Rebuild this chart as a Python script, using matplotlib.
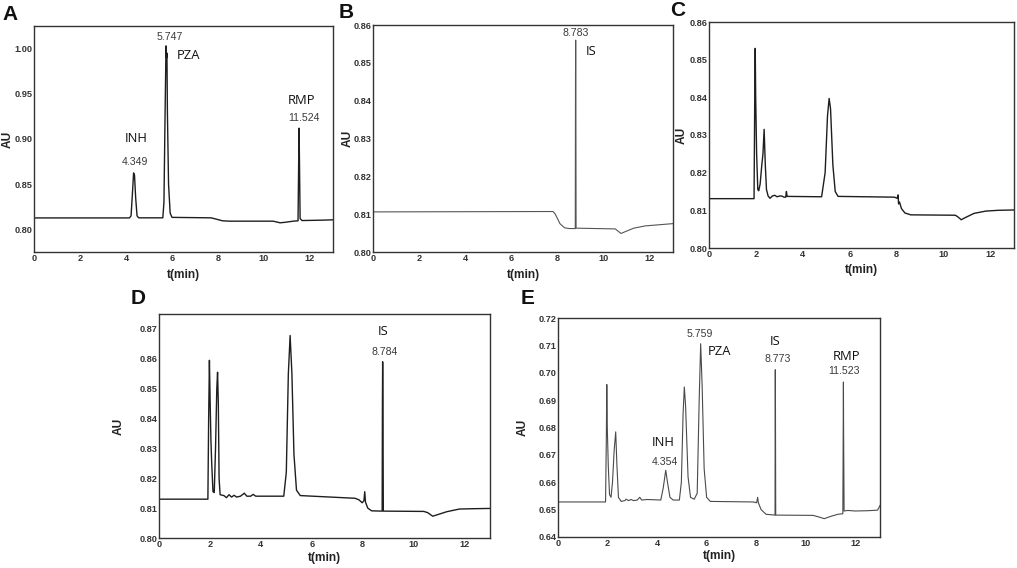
import matplotlib
matplotlib.use("Agg")
import matplotlib.pyplot as plt

# ---------------- data ----------------
# Panel A
a_t = [0.0, 4.15, 4.22, 4.28, 4.33, 4.37, 4.42, 4.48, 4.55, 5.60, 5.65, 5.70, 5.74, 5.765, 5.78,
       5.80, 5.85, 5.92, 6.0, 7.7, 7.9, 8.2, 8.5, 10.4, 10.7, 10.9, 11.3, 11.48, 11.51, 11.525,
       11.54, 11.57, 11.65, 12.5, 13.0]
a_y = [0.8127, 0.8127, 0.815, 0.840, 0.8625, 0.860, 0.835, 0.815, 0.8128, 0.8128, 0.830, 0.930,
       1.003, 0.990, 0.995, 0.930, 0.850, 0.818, 0.8133, 0.8128, 0.8115, 0.8095, 0.8091, 0.8091,
       0.8073, 0.8078, 0.8092, 0.8095, 0.880, 0.912, 0.880, 0.812, 0.8098, 0.8102, 0.8106]

# Panel B
b_t = [0.0, 7.8, 7.9, 8.1, 8.3, 8.5, 8.765, 8.775, 8.783, 8.79, 8.80, 10.5, 10.6, 10.75, 10.9,
       11.3, 11.8, 12.2, 13.0]
b_y = [0.8106, 0.8107, 0.8100, 0.8075, 0.8064, 0.8062, 0.8062, 0.845, 0.856, 0.845, 0.8063,
       0.8061, 0.8056, 0.8049, 0.8053, 0.8063, 0.8069, 0.8071, 0.8075]

# Panel C
c_t = [0.0, 1.92, 1.95, 1.97, 1.99, 2.03, 2.08, 2.12, 2.18, 2.25, 2.30, 2.35, 2.40, 2.45, 2.52,
       2.6, 2.7, 2.8, 2.9, 3.0, 3.1, 3.2, 3.27, 3.30, 3.33, 4.8, 4.95, 5.05, 5.12, 5.18, 5.28,
       5.38, 5.5, 7.9, 8.02, 8.06, 8.08, 8.12, 8.2, 8.35, 8.6, 10.5, 10.6, 10.75, 10.9, 11.3,
       11.8, 12.3, 13.0]
c_y = [0.8131, 0.8131, 0.840, 0.853, 0.840, 0.825, 0.8155, 0.8152, 0.817, 0.8220, 0.8250, 0.8315,
       0.822, 0.8155, 0.8138, 0.8132, 0.8138, 0.8140, 0.8136, 0.8138, 0.8138, 0.8135, 0.8135,
       0.8150, 0.8137, 0.8136, 0.8200, 0.8350, 0.8397, 0.8370, 0.8220, 0.8150, 0.8137, 0.8135,
       0.8132, 0.8141, 0.8117, 0.8122, 0.8105, 0.8093, 0.8088, 0.8087, 0.8083, 0.8075, 0.8080,
       0.8092, 0.8098, 0.8100, 0.8101]

# Panel D
d_t = [0.0, 1.92, 1.95, 1.98, 2.01, 2.04, 2.07, 2.12, 2.17, 2.22, 2.27, 2.30, 2.33, 2.36, 2.40,
       2.55, 2.65, 2.75, 2.85, 2.95, 3.05, 3.2, 3.35, 3.45, 3.6, 3.7, 3.8, 4.9, 5.0, 5.08, 5.15,
       5.22, 5.30, 5.40, 5.55, 7.7, 7.85, 7.98, 8.05, 8.08, 8.11, 8.2, 8.35, 8.765, 8.775, 8.784,
       8.795, 8.81, 10.4, 10.55, 10.75, 10.9, 11.3, 11.8, 12.3, 13.0]
d_y = [0.8130, 0.8130, 0.840, 0.8595, 0.845, 0.8325, 0.8250, 0.8155, 0.8152, 0.830, 0.8500,
       0.8555, 0.8450, 0.8200, 0.8145, 0.8142, 0.8135, 0.8145, 0.8137, 0.8143, 0.8137, 0.8140,
       0.8150, 0.8140, 0.8140, 0.8146, 0.8140, 0.8140, 0.8220, 0.8550, 0.8678, 0.8550, 0.8280,
       0.8160, 0.8142, 0.8133, 0.8128, 0.8118, 0.8125, 0.8155, 0.8120, 0.8100, 0.8091, 0.8090,
       0.845, 0.8590, 0.845, 0.8090, 0.8089, 0.8085, 0.8073, 0.8077, 0.8088, 0.8097, 0.8098,
       0.8099]

# Panel E
e_t = [0.0, 1.92, 1.95, 1.97, 1.99, 2.03, 2.08, 2.14, 2.20, 2.27, 2.33, 2.38, 2.44, 2.55, 2.7,
       2.75, 2.85, 2.95, 3.05, 3.2, 3.3, 3.38, 3.6, 4.15, 4.25, 4.35, 4.42, 4.52, 4.65, 4.9, 4.98,
       5.05, 5.10, 5.15, 5.25, 5.35, 5.5, 5.62, 5.70, 5.76, 5.82, 5.90, 6.0, 6.15, 7.9, 8.02,
       8.06, 8.09, 8.2, 8.4, 8.762, 8.768, 8.773, 8.78, 8.79, 10.3, 10.5, 10.75, 11.0, 11.3,
       11.50, 11.515, 11.523, 11.53, 11.55, 11.7, 12.0, 12.5, 12.9, 13.0]
e_y = [0.6528, 0.6528, 0.675, 0.6957, 0.680, 0.666, 0.6555, 0.6545, 0.660, 0.6720, 0.6784, 0.666,
       0.6545, 0.6530, 0.6533, 0.6538, 0.6533, 0.6537, 0.6533, 0.6535, 0.6545, 0.6535, 0.6537,
       0.6535, 0.658, 0.6644, 0.660, 0.6545, 0.6535, 0.6535, 0.660, 0.685, 0.6948, 0.688, 0.662,
       0.6545, 0.6538, 0.656, 0.690, 0.7106, 0.695, 0.665, 0.6545, 0.6530, 0.6528, 0.6525,
       0.6545, 0.6525, 0.6500, 0.6483, 0.6480, 0.685, 0.7011, 0.685, 0.6480, 0.6479, 0.6474,
       0.6467, 0.6475, 0.6483, 0.6485, 0.680, 0.6966, 0.680, 0.6495, 0.6497, 0.6495, 0.6496,
       0.6498, 0.6515]

# Axis limits / ticks
a_ylim = (0.775, 1.025); a_yticks = [0.80, 0.85, 0.90, 0.95, 1.00]
b_ylim = (0.80, 0.86);   b_yticks = [0.80, 0.81, 0.82, 0.83, 0.84, 0.85, 0.86]
c_ylim = (0.80, 0.86);   c_yticks = [0.80, 0.81, 0.82, 0.83, 0.84, 0.85, 0.86]
d_ylim = (0.80, 0.875);  d_yticks = [0.80, 0.81, 0.82, 0.83, 0.84, 0.85, 0.86, 0.87]
e_ylim = (0.64, 0.72);   e_yticks = [0.64, 0.65, 0.66, 0.67, 0.68, 0.69, 0.70, 0.71, 0.72]
x_ticks = [0, 2, 4, 6, 8, 10, 12]

# Peak annotations: (text, x, y, kind)
a_notes = [("5.747", 5.91, 1.0132, "num"), ("PZA", 6.70, 0.9927, "name"),
           ("INH", 4.45, 0.9006, "name"), ("4.349", 4.39, 0.875, "num"),
           ("RMP", 11.63, 0.9426, "name"), ("11.524", 11.72, 0.9232, "num")]
b_notes = [("8.783", 8.80, 0.8580, "num"), ("IS", 9.45, 0.8530, "name")]
c_notes = []
d_notes = [("IS", 8.81, 0.8692, "name"), ("8.784", 8.85, 0.8624, "num")]
e_notes = [("5.759", 5.74, 0.7143, "num"), ("PZA", 6.52, 0.7076, "name"),
           ("IS", 8.76, 0.7113, "name"), ("8.773", 8.87, 0.7049, "num"),
           ("RMP", 11.65, 0.7058, "name"), ("11.523", 11.53, 0.7005, "num"),
           ("INH", 4.26, 0.6747, "name"), ("4.354", 4.30, 0.6674, "num")]

# ---------------- figure ----------------
W, H = 1017, 568
fig = plt.figure(figsize=(W / 100, H / 100), dpi=100)

def px_axes(x0, x1, y0, y1):
    return fig.add_axes([x0 / W, 1 - y1 / H, (x1 - x0) / W, (y1 - y0) / H])

panels = [
    # letter, box(px), t, y, ylim, yticks, notes, line color, lw, letter pos, ylabel x px
    ("A", (34, 333, 26, 252), a_t, a_y, a_ylim, a_yticks, a_notes, "#1e1e1e", 1.0, (10, 14), 8, 275),
    ("B", (373, 673, 25, 252), b_t, b_y, b_ylim, b_yticks, b_notes, "#555555", 0.8, (346, 12), 348, 275),
    ("C", (709, 1014, 22, 248), c_t, c_y, c_ylim, c_yticks, c_notes, "#1e1e1e", 1.0, (678, 11), 682, 270),
    ("D", (159, 490, 314, 538), d_t, d_y, d_ylim, d_yticks, d_notes, "#1e1e1e", 1.0, (138, 299), 119, 558),
    ("E", (558, 880, 318, 537), e_t, e_y, e_ylim, e_yticks, e_notes, "#4a4a4a", 0.8, (528, 298), 523, 556),
]

tickfont = dict(family="Liberation Sans", weight="bold", size=6.6)

for letter, box, t, y, ylim, yticks, notes, col, lw, lpos, ylx, xly in panels:
    x0, x1, y0, y1 = box
    ax = px_axes(x0, x1, y0, y1)
    ax.plot(t, y, color=col, lw=lw, solid_joinstyle="round")
    ax.set_xlim(0, 13)
    ax.set_ylim(*ylim)
    ax.set_xticks(x_ticks)
    ax.set_yticks(yticks)
    ax.set_xticklabels([str(v) for v in x_ticks], fontdict=tickfont, color="#333333")
    ax.set_yticklabels(["%.2f" % v for v in yticks], fontdict=tickfont, color="#333333")
    ax.tick_params(length=0, pad=1.2)
    for s in ax.spines.values():
        s.set_color("#333333")
        s.set_linewidth(1.0)
    # axis labels placed in pixel coords
    fig.text(ylx / W, 1 - ((y0 + y1) / 2) / H, "AU", rotation=90, ha="center", va="center",
             family="Liberation Sans", weight="bold", fontsize=8.6, color="#222222")
    fig.text(((x0 + x1) / 2) / W, 1 - xly / H, "t(min)", ha="center", va="center",
             family="Liberation Sans", weight="bold", fontsize=8.6, color="#222222")
    fig.text(lpos[0] / W, 1 - lpos[1] / H, letter, ha="center", va="center",
             family="Liberation Sans", weight="bold", fontsize=15, color="#111111")
    for txt, tx, ty, kind in notes:
        if kind == "num":
            ax.text(tx, ty, txt, ha="center", va="center", family="Liberation Sans",
                    fontsize=7.6, color="#3a3a3a")
        else:
            ax.text(tx, ty, txt, ha="center", va="center", family="Open Sans",
                    fontsize=9.4, color="#111111")

fig.savefig("out.png", dpi=100, facecolor="white")
